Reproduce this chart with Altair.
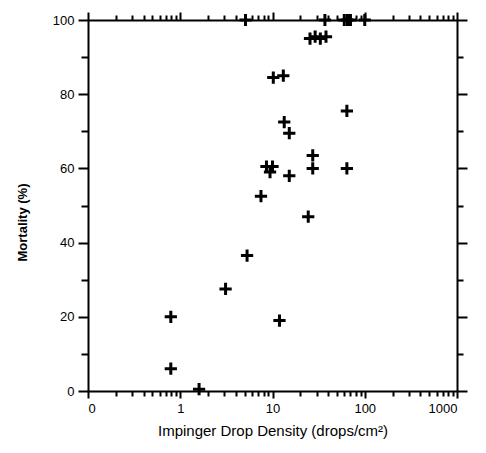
import altair as alt
import pandas as pd

# data
density = [0.79, 0.79, 1.6, 3.1, 5.3, 7.5, 8.6, 10.0, 9.4, 11.9, 15.2, 24.4,
           27.3, 27.3, 64, 13.4, 15.2, 64, 10.2, 13.1, 25.5, 29, 33, 38,
           5.1, 37, 60, 65, 70, 100]
mortality = [20, 6, 0.5, 27.5, 36.5, 52.5, 60.5, 60.5, 59, 19, 58, 47,
             63.5, 60, 60, 72.5, 69.5, 75.5, 84.5, 85, 95, 95.5, 95, 95.5,
             100, 100, 100, 100, 100, 100]

x_ticks = [m * 10 ** e for e in range(-1, 3) for m in range(1, 10)] + [1000]
y_ticks = list(range(0, 101, 10))

df = pd.DataFrame({"density": density, "mortality": mortality})

FONT = "Liberation Sans"
is_major_x = "abs(log(datum.value)/LN10 - round(log(datum.value)/LN10)) < 0.001"
is_major_y = "datum.value % 20 == 0"

xscale = alt.Scale(type="log", domain=[0.1, 1000], nice=False)
yscale = alt.Scale(domain=[0, 100], nice=False)

common = dict(domainColor="black", domainWidth=2, tickColor="black", tickWidth=2,
              grid=False, labelFont=FONT, titleFont=FONT, labelColor="black",
              titleColor="black", labelOverlap=False)

x_bottom = alt.Axis(
    orient="bottom", values=x_ticks,
    labelExpr="(" + is_major_x + ") ? (datum.value < 0.5 ? '0' : format(datum.value, 'd')) : ''",
    tickSize={"condition": {"test": is_major_x, "value": 7}, "value": 5},
    labelFontSize=13, labelPadding=4,
    title="Impinger Drop Density (drops/cm²)", titleFontSize=15,
    titleFontWeight="normal", titlePadding=8, **common)
y_left = alt.Axis(
    orient="left", values=y_ticks,
    labelExpr="datum.value % 20 == 0 ? datum.label : ''",
    tickSize={"condition": {"test": is_major_y, "value": 10}, "value": 7},
    labelFontSize=13, labelPadding=4,
    title="Mortality (%)", titleFontSize=13, titleFontWeight="bold",
    titleX=-66, titleY=202, titleBaseline="middle", **common)
x_top = alt.Axis(
    orient="top", values=x_ticks, labels=False, title=None,
    tickSize={"condition": {"test": is_major_x, "value": 8}, "value": 5}, **common)
y_right = alt.Axis(
    orient="right", values=y_ticks, labels=False, title=None,
    tickSize={"condition": {"test": is_major_y, "value": 10}, "value": 6}, **common)

cross = "M-1,0L1,0M0,-1L0,1"

pts = alt.Chart(df).mark_point(
    shape=cross, size=150, filled=False, stroke="black", strokeWidth=3, opacity=1
).encode(
    x=alt.X("density:Q", scale=xscale, axis=x_bottom),
    y=alt.Y("mortality:Q", scale=yscale, axis=y_left),
)

frame = alt.Chart(df).mark_point(opacity=0).encode(
    x=alt.X("density:Q", scale=xscale, axis=x_top),
    y=alt.Y("mortality:Q", scale=yscale, axis=y_right),
)

chart = alt.layer(pts, frame).resolve_axis(x="independent", y="independent").properties(
    width=369, height=371,
    autosize=alt.AutoSizeParams(type="none"),
    padding={"left": 80, "top": 12, "right": 21, "bottom": 62},
).configure_view(strokeWidth=0).configure(background="white")

chart.save("out.html", embed_options={"renderer": "svg", "actions": False})
